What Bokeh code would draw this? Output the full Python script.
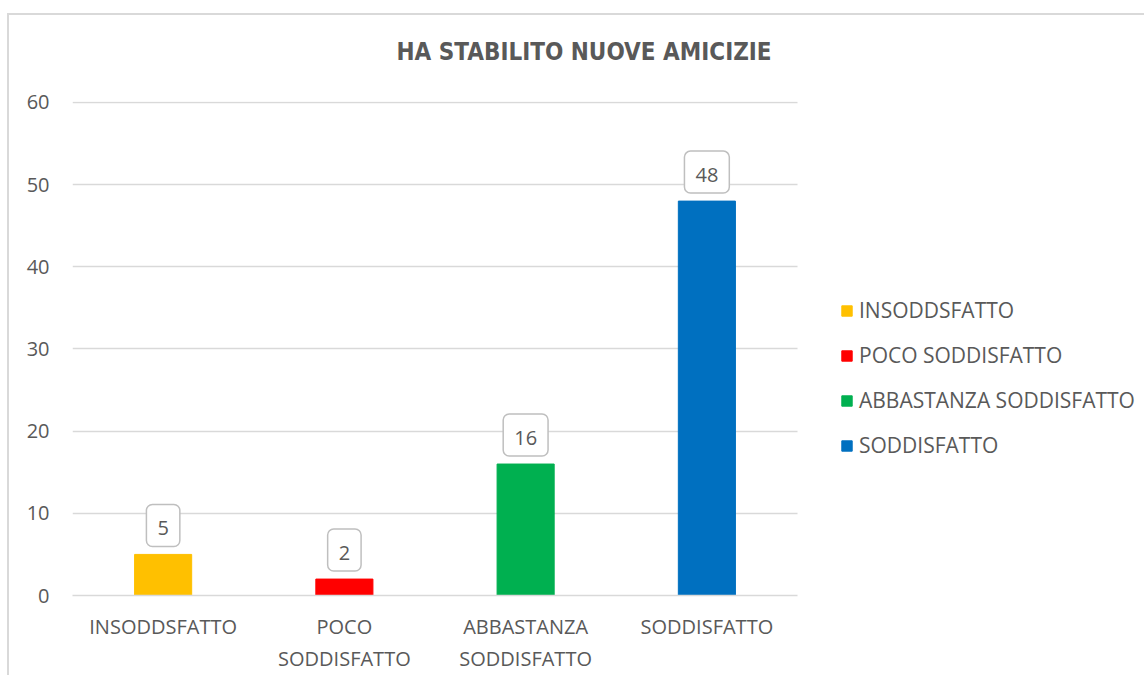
from bokeh.plotting import figure
from bokeh.models import (ColumnDataSource, Range1d, FixedTicker, Legend, LegendItem, Title)
from bokeh.core.properties import value
from bokeh.embed import file_html
from bokeh.resources import INLINE

# ---- data ----
categories = ["INSODDSFATTO", "POCO SODDISFATTO", "ABBASTANZA SODDISFATTO", "SODDISFATTO"]
axis_labels = ["INSODDSFATTO", "POCO\nSODDISFATTO", "ABBASTANZA\nSODDISFATTO", "SODDISFATTO"]
values = [5, 2, 16, 48]
colors = ["#FFC000", "#FF0000", "#00B050", "#0070C0"]
y_ticks = [0, 10, 20, 30, 40, 50, 60]
title_text = "HA STABILITO NUOVE AMICIZIE"

FONT = "Open Sans"
GRAY = "#595959"
GRID = "#d9d9d9"

# layout constants (pixels)
FIG_W, FIG_H = 1137, 662
LEFT, TOP, BOTTOM = 63, 85, 82
PLOT_W = 725                      # width of the bar area
n = len(categories)
cat_px = PLOT_W / n
frame_w = FIG_W - LEFT
x_start = -0.5
x_end = x_start + frame_w / cat_px   # frame continues to the right to host the legend
bar_lo, bar_hi = -0.5, n - 0.5
y_max = max(y_ticks)
y_end = y_max + y_max / 494.0        # one pixel of headroom so the top grid line shows

pos = list(range(n))
source = ColumnDataSource(dict(x=pos, cat=categories, val=values, color=colors,
                               lbl=[str(v) for v in values]))

p = figure(x_range=Range1d(x_start, x_end), y_range=Range1d(0, y_end), width=FIG_W, height=FIG_H,
           output_backend="svg", toolbar_location=None,
           min_border_left=LEFT, min_border_right=0, min_border_top=TOP, min_border_bottom=BOTTOM)
p.styles = {"border-left": "2px solid #d9d9d9", "border-top": "2px solid #d9d9d9",
            "margin-top": "13px", "margin-left": "7px"}

p.title = Title(text=title_text, align="left", offset=324,
                text_font="DejaVu Sans Condensed", text_font_style="bold",
                text_font_size="24px", text_color=GRAY, vertical_align="top", standoff=44)
# spacer between the title and the plot frame
p.add_layout(Title(text=" ", text_font_size="1px", standoff=9), "above")

p.outline_line_color = None
p.xgrid.grid_line_color = None
ygrid = p.ygrid[0]
ygrid.ticker = FixedTicker(ticks=y_ticks)
if "cross_bounds" in ygrid.properties():
    ygrid.grid_line_color = GRID
    ygrid.grid_line_width = 1.5
    ygrid.cross_bounds = (bar_lo, bar_hi)
else:
    ygrid.grid_line_color = None
    p.segment(x0=[bar_lo] * len(y_ticks), x1=[bar_hi] * len(y_ticks), y0=y_ticks, y1=y_ticks,
              line_color=GRID, line_width=1.5)

r = p.vbar(x="x", top="val", width=0.315, color="color", source=source)

p.text(x="x", y="val", text="lbl", source=source, anchor="bottom_center", y_offset=-8,
       text_font=value(FONT), text_font_size="20px", text_color=GRAY,
       background_fill_color="white", border_line_color="#bfbfbf", border_line_width=1.5,
       border_radius=6, padding=dict(left=11, right=11, top=17, bottom=11))

p.yaxis.ticker = FixedTicker(ticks=y_ticks)
p.yaxis.axis_line_color = None
p.yaxis.major_tick_line_color = None
p.yaxis.minor_tick_line_color = None
p.yaxis.major_label_standoff = 17
p.yaxis.major_label_text_font = FONT
p.yaxis.major_label_text_font_size = "20px"
p.yaxis.major_label_text_color = GRAY

p.xaxis.ticker = FixedTicker(ticks=pos)
p.xaxis.bounds = (bar_lo, bar_hi)
p.xaxis.axis_line_color = GRID
p.xaxis.axis_line_width = 1.5
p.xaxis.major_tick_line_color = None
p.xaxis.minor_tick_line_color = None
p.xaxis.major_label_standoff = 11
p.xaxis.major_label_text_font = FONT
p.xaxis.major_label_text_font_size = "20px"
p.xaxis.major_label_text_color = GRAY
p.xaxis.major_label_overrides = {i: lab for i, lab in zip(pos, axis_labels)}

items = [LegendItem(label=lab, renderers=[r], index=i) for i, lab in enumerate(categories)]
legend = Legend(items=items, location=(PLOT_W + 43, 136), glyph_width=13, glyph_height=13,
                label_standoff=6, spacing=17, padding=0, margin=0,
                border_line_color=None, background_fill_color=None,
                label_text_font=FONT, label_text_font_size="21px", label_text_color=GRAY)
p.add_layout(legend, "center")

open("out.html", "w").write(file_html(p, INLINE))
